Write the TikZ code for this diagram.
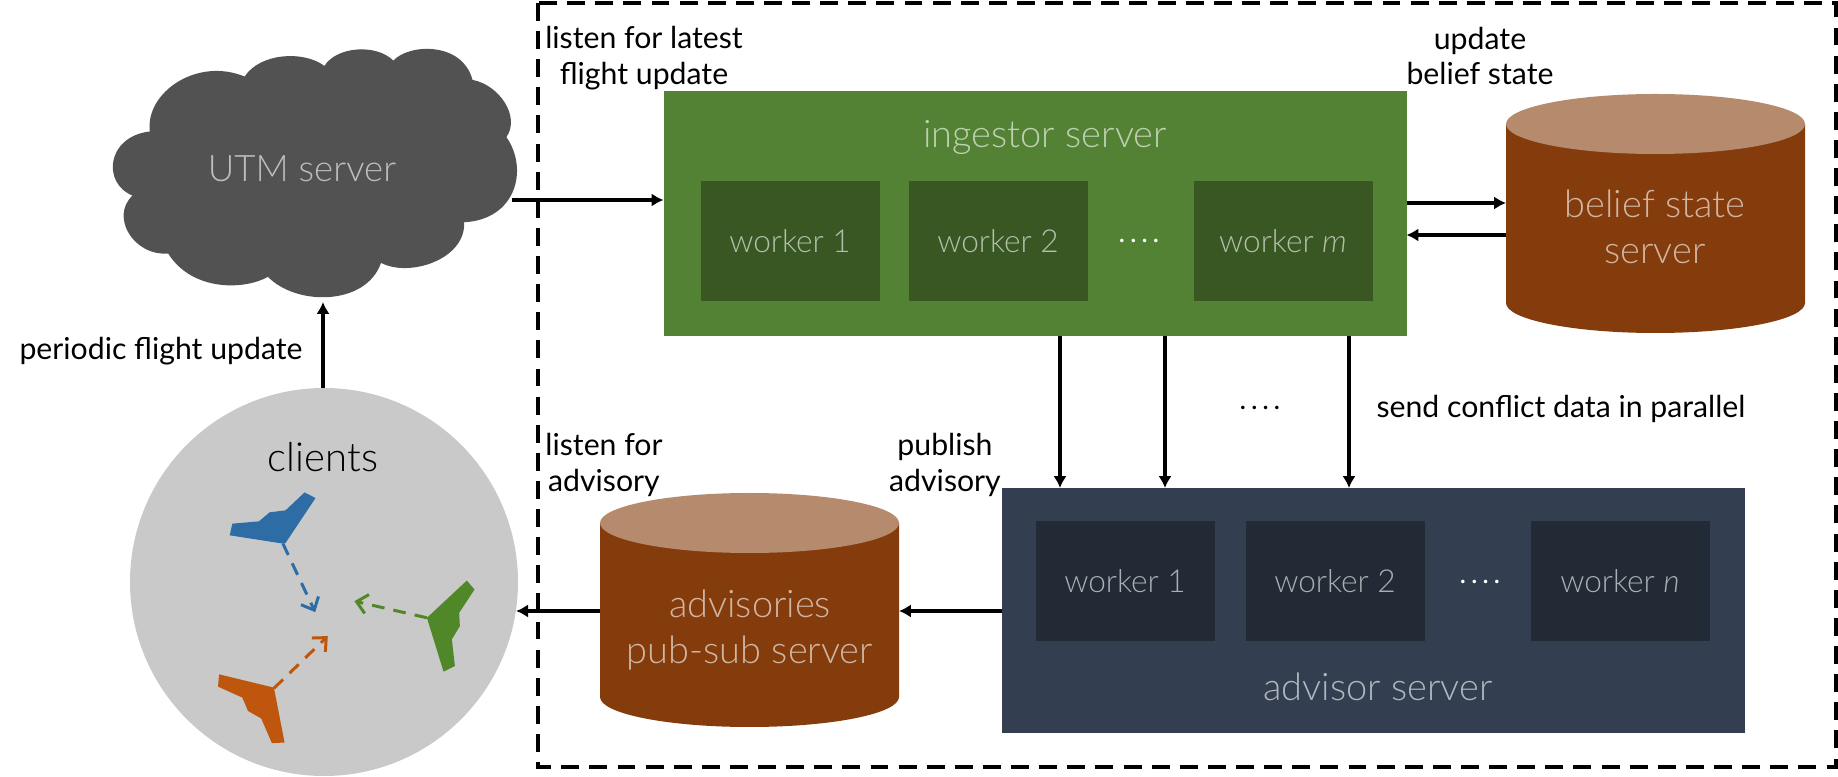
\documentclass[tikz,border=0pt]{standalone}
\usepackage{fontspec}
\setmainfont{Lato}
\newfontfamily\lightfont{Lato Light}
\usetikzlibrary{arrows.meta,positioning}
\definecolor{ingestgreen}{RGB}{84,130,53}
\definecolor{ingestdark}{RGB}{56,87,35}
\definecolor{advisornavy}{RGB}{51,63,80}
\definecolor{advisordark}{RGB}{34,42,53}
\definecolor{storebrown}{RGB}{132,60,12}
\definecolor{storetop}{RGB}{181,138,109}
\definecolor{cloudgray}{RGB}{82,82,82}
\definecolor{clientgray}{RGB}{201,201,201}
\definecolor{planeblue}{RGB}{46,108,166}
\definecolor{planegreen}{RGB}{80,135,40}
\definecolor{planeorange}{RGB}{191,86,13}
\newcommand{\drumbody}[1]{%
  \fill[storebrown] ([yshift=-0.3cm]#1.north west) -- ([yshift=0.3cm]#1.south west)
    arc[start angle=180,end angle=360,x radius=1.495cm,y radius=0.3cm]
    -- ([yshift=-0.3cm]#1.north east) -- cycle;
  \fill[storetop] ([yshift=-0.3cm]#1.north) ellipse[x radius=1.495cm,y radius=0.3cm];}

\begin{document}
\begin{tikzpicture}[
  arr/.style={-{Latex[length=3.4pt,width=3.8pt]},line width=1pt},
  track/.style={dash pattern=on 3.6pt off 2.6pt,line width=0.85pt,-{Straight Barb[length=3pt,width=5.5pt]}},
  lab/.style={font=\fontsize{8.6}{10.2}\selectfont,align=center},
  lite/.style={font=\lightfont\fontsize{10.8}{13}\selectfont,align=center},
  dotted row/.style={font=\fontsize{8}{10}\selectfont},
  server/.style={inner sep=0pt,outer sep=0pt,minimum width=7.43cm,minimum height=2.45cm},
  workerbox/.style={inner sep=0pt,outer sep=0pt,minimum width=1.79cm,minimum height=1.2cm,
    font=\lightfont\fontsize{9}{10}\selectfont},
  store/.style={inner sep=0pt,outer sep=0pt,minimum width=2.99cm}
]
\useasboundingbox (0,0) rectangle (18.38,-7.77);
% trust boundary
\draw[line width=1.15pt,dash pattern=on 5.1pt off 2.9pt] (5.38,-0.03) rectangle (18.36,-7.67);

% cloud, in units of a third of a pixel
\begin{scope}[shift={(0.9,-0.3)},x=0.003333cm,y=-0.003333cm]
\fill[cloudgray] (180,305) .. controls (165,190) and (320,80) .. (465,140)
  .. controls (510,70) and (640,60) .. (705,108)
  .. controls (740,50) and (860,40) .. (912,92)
  .. controls (960,40) and (1120,35) .. (1150,150)
  .. controls (1230,165) and (1295,260) .. (1252,322)
  .. controls (1320,420) and (1280,570) .. (1125,578)
  .. controls (1130,690) and (960,745) .. (875,700)
  .. controls (830,830) and (620,830) .. (535,742)
  .. controls (470,780) and (310,790) .. (235,672)
  .. controls (130,680) and (60,560) .. (128,498)
  .. controls (35,460) and (50,320) .. (180,305) -- cycle;
\end{scope}
\node[lite,text=white!62!cloudgray,font=\lightfont\fontsize{10.4}{12}\selectfont] (utm) at (3.02,-1.69) {UTM server};
\coordinate (cloudout) at (5.12,-2.0);
\coordinate (cloudin) at (3.23,-3.02);

% clients
\node[circle,fill=clientgray,inner sep=0pt,outer sep=0pt,minimum size=3.88cm] (clients) at (3.24,-5.82) {};
\node[font=\lightfont\fontsize{11.4}{12}\selectfont] (clientslab) at (3.23,-4.57) {clients};
\begin{scope}[shift={(0.9,-3.7)},x=0.003333cm,y=-0.003333cm]
\fill[planeblue] (645,368) -- (678,385) -- (588,520) -- (580,522) -- (420,497) -- (428,462)
  -- (508,455) -- (540,428) -- (588,422) -- cycle;
\fill[planegreen] (1133,633) -- (1156,660) -- (1110,730) -- (1112,770) -- (1088,810)
  -- (1097,890) -- (1063,907) -- (1013,745) -- cycle;
\fill[planeorange] (388,915) -- (553,955) -- (585,1120) -- (547,1122) -- (515,1048)
  -- (475,1025) -- (458,985) -- (385,952) -- cycle;
\coordinate (blueout) at (580,522);
\coordinate (bluein) at (677,728);
\coordinate (greenout) at (1013,745);
\coordinate (greenin) at (795,695);
\coordinate (orangeout) at (553,957);
\coordinate (orangein) at (715,800);
\end{scope}
\draw[track,planeblue] (blueout) -- (bluein);
\draw[track,planegreen] (greenout) -- (greenin);
\draw[track,planeorange] (orangeout) -- (orangein);

% ingestor
\node[server,fill=ingestgreen] (ingestor) at (10.35,-2.135) {};
\node[lite,text=white!62!ingestgreen] (ingestorlab) at (10.45,-1.37) {ingestor server};
\node[workerbox,fill=ingestdark,text=white!62!ingestdark] (ingest1) at (7.9,-2.415) {worker 1};
\node[workerbox,fill=ingestdark,text=white!62!ingestdark] (ingest2) at (9.98,-2.415) {worker 2};
\node[workerbox,fill=ingestdark,text=white!62!ingestdark] (ingestm) at (12.83,-2.415) {worker \textit{m}};
\node[dotted row,text=white] (ingestdots) at (11.39,-2.41) {.\,.\,.\,.};

% belief state
\node[store,minimum height=2.39cm] (belief) at (16.555,-2.135) {};
\drumbody{belief}
\node[lite,text=white!62!storebrown] (belieflab) at (16.55,-2.27) {belief state\\server};

% advisor
\node[server,fill=advisornavy] (advisor) at (13.73,-6.105) {};
\node[lite,text=white!62!advisornavy] (advisorlab) at (13.78,-6.87) {advisor server};
\node[workerbox,fill=advisordark,text=white!62!advisordark] (advisor1) at (11.25,-5.81) {worker 1};
\node[workerbox,fill=advisordark,text=white!62!advisordark] (advisor2) at (13.35,-5.81) {worker 2};
\node[workerbox,fill=advisordark,text=white!62!advisordark] (advisorn) at (16.2,-5.81) {worker \textit{n}};
\node[dotted row,text=white] (advisordots) at (14.8,-5.82) {.\,.\,.\,.};

% pub-sub
\node[store,minimum height=2.34cm] (advisories) at (7.495,-6.1) {};
\drumbody{advisories}
\node[lite,text=white!62!storebrown] (advisorieslab) at (7.5,-6.3) {advisories\\pub-sub server};

% connectors
\draw[arr] (clients.north -| cloudin) -- (cloudin);
\draw[arr] (cloudout) -- (cloudout -| ingestor.west);
\coordinate (beliefto) at (0,-2.03);
\coordinate (belieffrom) at (0,-2.35);
\draw[arr] (beliefto -| ingestor.east) -- (beliefto -| belief.west);
\draw[arr] (belieffrom -| belief.west) -- (belieffrom -| ingestor.east);
\coordinate (conflicta) at (10.6,0);
\coordinate (conflictb) at (11.65,0);
\coordinate (conflictc) at (13.49,0);
\draw[arr] (conflicta |- ingestor.south) -- (conflicta |- advisor.north);
\draw[arr] (conflictb |- ingestor.south) -- (conflictb |- advisor.north);
\draw[arr] (conflictc |- ingestor.south) -- (conflictc |- advisor.north);
\coordinate (advlink) at (0,-6.11);
\draw[arr] (advlink -| advisor.west) -- (advlink -| advisories.east);
\draw[arr] (advlink -| advisories.west) -- (clients.-8.6 |- advlink);

% labels
\node[lab] (listenflight) at (6.44,-0.58) {listen for latest\\flight update};
\node[lab] (updatebelief) at (14.8,-0.56) {update\\belief state};
\node[lab] (periodic) at (1.61,-3.51) {periodic flight update};
\node[lab] (listenadvisory) at (6.04,-4.65) {listen for\\advisory};
\node[lab] (publish) at (9.45,-4.65) {publish\\advisory};
\node[lab] (sendconflict) at (15.61,-4.09) {send conflict data in parallel};
\node[dotted row] (conflictdots) at (12.6,-4.08) {.\,.\,.\,.};
\end{tikzpicture}
\end{document}
